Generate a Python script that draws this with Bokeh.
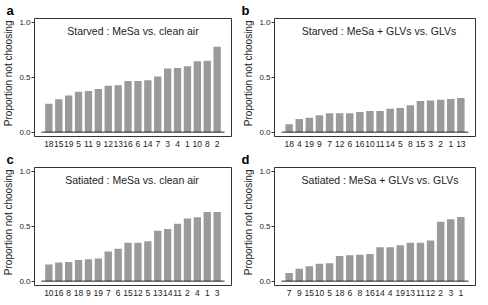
from bokeh.plotting import figure
from bokeh.layouts import column, row
from bokeh.models import Range1d, FixedTicker, Label
from bokeh.embed import file_html
from bokeh.resources import INLINE

# ---- data ----
letters = ["a", "b", "c", "d"]
titles = [
    "Starved : MeSa vs. clean air",
    "Starved : MeSa + GLVs vs. GLVs",
    "Satiated : MeSa vs. clean air",
    "Satiated : MeSa + GLVs vs. GLVs",
]
labels_a = ["18", "15", "19", "5", "11", "9", "12", "13", "16", "6", "14", "7", "3", "4", "1", "10", "8", "2"]
values_a = [0.26, 0.30, 0.335, 0.37, 0.376, 0.395, 0.424, 0.43, 0.469, 0.469, 0.475, 0.51, 0.582, 0.588, 0.603, 0.648, 0.654, 0.782]
labels_b = ["18", "4", "19", "9", "7", "12", "6", "16", "10", "11", "14", "5", "8", "15", "3", "2", "1", "13"]
values_b = [0.072, 0.12, 0.131, 0.155, 0.173, 0.173, 0.173, 0.185, 0.194, 0.194, 0.215, 0.221, 0.245, 0.286, 0.29, 0.296, 0.304, 0.313]
labels_c = ["10", "16", "8", "18", "9", "19", "7", "6", "15", "12", "5", "13", "14", "11", "2", "4", "1", "3"]
values_c = [0.152, 0.17, 0.176, 0.194, 0.2, 0.206, 0.272, 0.296, 0.352, 0.352, 0.364, 0.46, 0.478, 0.525, 0.573, 0.585, 0.633, 0.633]
labels_d = ["7", "9", "15", "10", "5", "18", "6", "8", "16", "14", "4", "19", "13", "11", "12", "2", "3", "1"]
values_d = [0.075, 0.113, 0.137, 0.158, 0.164, 0.23, 0.236, 0.242, 0.248, 0.31, 0.31, 0.328, 0.352, 0.352, 0.373, 0.543, 0.567, 0.588]
y_ticks = [0.0, 0.5, 1.0]
y_tick_labels = ["0.0", "0.5", "1.0"]
y_label = "Proportion not choosing"

FONT = "Liberation Sans"
BAR = "#9a9a9a"
INK = "#222222"
NBSP = "\u00a0"


def panel(letter, title, labels, values, fw, fh, bl, br, bb, title_dx, letter_dx):
    n = len(values)
    xs = list(range(1, n + 1))
    p = figure(frame_width=fw, frame_height=fh, output_backend="svg", toolbar_location=None,
               x_range=Range1d(1 - 1.45, n + 1.45), y_range=Range1d(-0.04, 1.04),
               min_border_left=bl, min_border_right=br, min_border_top=0, min_border_bottom=bb)
    p.xgrid.visible = False
    p.ygrid.visible = False
    p.outline_line_color = "#333333"
    p.outline_line_width = 1
    p.background_fill_color = "white"
    p.border_fill_color = "white"

    # panel letter as the figure title
    p.title.text = letter
    p.title.align = "left"
    p.title.offset = letter_dx
    p.title.standoff = 1
    p.title.text_font = FONT
    p.title.text_font_size = "13px"
    p.title.text_font_style = "bold"
    p.title.text_color = "black"

    p.vbar(x=xs, top=values, width=0.74, fill_color=BAR, line_color=None)
    p.segment(x0=[0.25], y0=[0], x1=[n + 0.75], y1=[0], line_color=INK, line_width=1)

    xa = p.xaxis[0]
    xa.ticker = FixedTicker(ticks=xs)
    xa.major_label_overrides = {x: lab for x, lab in zip(xs, labels)}
    xa.axis_line_color = None
    xa.major_tick_line_color = None
    xa.minor_tick_line_color = None
    xa.major_tick_in = 0
    xa.major_tick_out = 0
    xa.minor_tick_in = 0
    xa.minor_tick_out = 0
    xa.major_label_standoff = 4
    xa.major_label_text_font = FONT
    xa.major_label_text_font_size = "8.5px"
    xa.major_label_text_color = INK

    ya = p.yaxis[0]
    ya.ticker = FixedTicker(ticks=y_ticks)
    ya.major_label_overrides = {t: s for t, s in zip(y_ticks, y_tick_labels)}
    ya.axis_line_color = None
    ya.major_tick_in = 0
    ya.major_tick_out = 3
    ya.minor_tick_in = 0
    ya.minor_tick_out = 0
    ya.major_tick_line_color = "#333333"
    ya.minor_tick_line_color = None
    ya.major_label_standoff = 1
    ya.major_label_text_font = FONT
    ya.major_label_text_font_size = "8px"
    ya.major_label_text_color = INK
    # a few leading no-break spaces lift the centred label slightly, as in the reference
    ya.axis_label = NBSP * 3 + y_label
    ya.axis_label_standoff = 2
    ya.axis_label_text_font = FONT
    ya.axis_label_text_font_size = "10px"
    ya.axis_label_text_font_style = "normal"
    ya.axis_label_text_color = INK

    xr = p.x_range
    p.add_layout(Label(x=(xr.start + xr.end) / 2, y=1.04, x_offset=title_dx, y_offset=-6,
                       text=title, text_font=FONT, text_font_size="10.5px", text_color=INK,
                       text_align="center", text_baseline="top"))
    return p


pa = panel(letters[0], titles[0], labels_a, values_a, 197, 118, 25, 9, 13, 0, -28)
pb = panel(letters[1], titles[1], labels_b, values_b, 201, 118, 34, 1, 13, 4, -33)
pc = panel(letters[2], titles[2], labels_c, values_c, 197, 118, 25, 9, 13, -1, -28)
pd = panel(letters[3], titles[3], labels_d, values_d, 201, 118, 34, 1, 13, 5, -33)

layout = column(row(pa, pb, spacing=0), row(pc, pd, spacing=0), spacing=0)
open("out.html", "w").write(file_html(layout, INLINE))
